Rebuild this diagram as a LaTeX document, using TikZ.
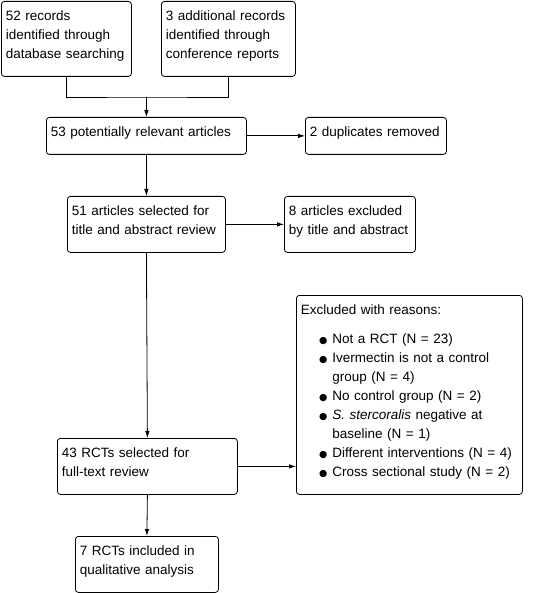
\documentclass[tikz,border=0pt]{standalone}
\usepackage{fontspec}
\setmainfont{Liberation Sans}
\newfontfamily\symfont{DejaVu Sans}
\usetikzlibrary{arrows.meta}

\newcommand{\blt}{\llap{{\symfont\fontsize{9.5}{19}\selectfont ●}\hspace{5pt}}}

\begin{document}
\begin{tikzpicture}[x=1pt,y=-1pt,
  box/.style={draw, rounded corners=3pt, line width=0.8pt, anchor=north west, align=left,
    inner xsep=4.5pt, inner ysep=5.7pt, font=\fontsize{13.5}{19}\selectfont,
    execute at begin node=\strut, execute at end node={\strut\endgraf\kern6.6pt}},
  line/.style={line width=0.8pt},
  arrow/.style={line width=0.8pt,-{Latex[length=7pt,width=4.5pt]}}]
\useasboundingbox (0,0) rectangle (546,593);

\node[box, text width=121pt] (dbase) at (1,1) {52 records\\identified through\\database searching};
\node[box, text width=125pt] (conf) at (161,1) {3 additional records\\identified through\\conference reports};
\node[box, text width=191pt] (relevant) at (46,117) {53 potentially relevant articles};
\node[box, text width=132pt] (dupl) at (305,117) {2 duplicates removed};
\node[box, text width=149pt] (screen) at (67,196) {51 articles selected for\\title and abstract review};
\node[box, text width=122pt] (titleex) at (284,196) {8 articles excluded\\by title and abstract};
\node[box, text width=171pt] (fulltext) at (57,438) {43 RCTs selected for\\full-text review};
\node[box, text width=217pt] (reasons) at (296,295) {Excluded with reasons:\\[10pt]
\hspace*{31.5pt}\blt Not a RCT (N = 23)\\
\hspace*{31.5pt}\blt Ivermectin is not a control\\
\hspace*{31.5pt}group (N = 4)\\
\hspace*{31.5pt}\blt No control group (N = 2)\\
\hspace*{31.5pt}\blt \textit{S. stercoralis} negative at\\
\hspace*{31.5pt}baseline (N = 1)\\
\hspace*{31.5pt}\blt Different interventions (N = 4)\\
\hspace*{31.5pt}\blt Cross sectional study (N = 2)};
\node[box, text width=134pt] (included) at (75,536) {7 RCTs included in\\qualitative analysis};

\coordinate (join) at (146.5,97);

\draw[line] (dbase.south) |- (join) -| (conf.south);
\draw[arrow] (join) -- (relevant.north);
\draw[arrow] (relevant.east) -- (dupl.west);
\draw[arrow] (relevant.south) -- (screen.north);
\draw[arrow] (screen.east) -- (titleex.west);
\draw[arrow] (screen.south) -- (fulltext.north);
\draw[arrow] (fulltext.east) -- (fulltext.east -| reasons.west);
\draw[arrow] (fulltext.south) -- (included.north);

\end{tikzpicture}
\end{document}
